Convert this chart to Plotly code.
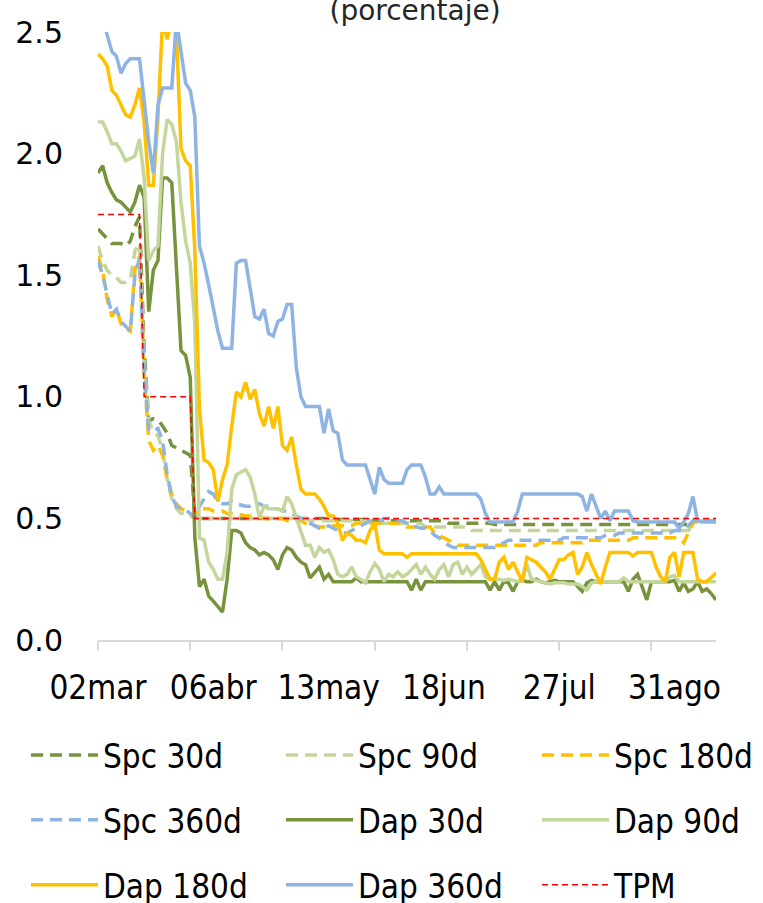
import pandas as pd
import plotly.graph_objects as go

# Business days (Chile) from 2 March to 11 September 2020, without public holidays
feriados = ["2020-04-10", "2020-05-01", "2020-05-21", "2020-06-29", "2020-07-16"]
fechas = pd.bdate_range("2020-03-02", "2020-09-11", freq="C", holidays=feriados)
meses = {3: "mar", 4: "abr", 5: "may", 6: "jun", 7: "jul", 8: "ago", 9: "sep"}
etiquetas = [f"{d.day:02d}{meses[d.month]}" for d in fechas]

# Interest rates (percent), one value per business day
spc_30d = [
    1.69, 1.67, 1.65, 1.63, 1.63, 1.63, 1.62, 1.64, 1.70, 1.74,
    1.20, 0.90, 0.91, 0.905, 0.88, 0.85, 0.80, 0.79, 0.78, 0.77,
    0.76, 0.52, 0.50, 0.50, 0.50, 0.50, 0.50, 0.50, 0.50, 0.50,
    0.50, 0.50, 0.50, 0.50, 0.50, 0.50, 0.50, 0.50, 0.50, 0.50,
    0.50, 0.50, 0.50, 0.50, 0.50, 0.50, 0.50, 0.50, 0.50, 0.50,
    0.495, 0.495, 0.495, 0.495, 0.495, 0.495, 0.495, 0.495, 0.495, 0.495,
    0.49, 0.49, 0.49, 0.49, 0.49, 0.49, 0.49, 0.49, 0.49, 0.49,
    0.49, 0.49, 0.49, 0.49, 0.49, 0.49, 0.48, 0.48, 0.48, 0.48,
    0.48, 0.48, 0.48, 0.48, 0.48, 0.48, 0.475, 0.475, 0.475, 0.475,
    0.475, 0.475, 0.475, 0.475, 0.475, 0.475, 0.475, 0.475, 0.475, 0.475,
    0.475, 0.475, 0.475, 0.475, 0.475, 0.475, 0.475, 0.475, 0.475, 0.475,
    0.475, 0.475, 0.475, 0.475, 0.475, 0.475, 0.475, 0.475, 0.475, 0.475,
    0.475, 0.475, 0.475, 0.475, 0.475, 0.475, 0.475, 0.475, 0.475, 0.49,
    0.49, 0.49, 0.49, 0.49, 0.49,
]
spc_90d = [
    1.62, 1.56, 1.52, 1.50, 1.49, 1.47, 1.47, 1.48, 1.60, 1.63,
    1.15, 0.90, 0.86, 0.84, 0.78, 0.66, 0.58, 0.54, 0.52, 0.52,
    0.51, 0.50, 0.50, 0.50, 0.50, 0.50, 0.50, 0.50, 0.50, 0.50,
    0.50, 0.50, 0.50, 0.50, 0.50, 0.50, 0.50, 0.50, 0.50, 0.50,
    0.50, 0.50, 0.50, 0.50, 0.50, 0.50, 0.49, 0.49, 0.49, 0.49,
    0.49, 0.49, 0.49, 0.49, 0.49, 0.49, 0.49, 0.49, 0.49, 0.49,
    0.49, 0.48, 0.48, 0.48, 0.48, 0.48, 0.48, 0.48, 0.48, 0.48,
    0.48, 0.465, 0.465, 0.465, 0.465, 0.465, 0.465, 0.465, 0.465, 0.465,
    0.465, 0.45, 0.45, 0.45, 0.45, 0.45, 0.45, 0.45, 0.45, 0.45,
    0.45, 0.45, 0.45, 0.45, 0.45, 0.45, 0.45, 0.45, 0.45, 0.45,
    0.45, 0.45, 0.45, 0.45, 0.45, 0.45, 0.45, 0.45, 0.45, 0.45,
    0.45, 0.45, 0.45, 0.45, 0.45, 0.45, 0.45, 0.45, 0.45, 0.45,
    0.45, 0.45, 0.45, 0.45, 0.45, 0.45, 0.45, 0.45, 0.45, 0.47,
    0.49, 0.49, 0.49, 0.49, 0.49,
]
spc_180d = [
    1.58, 1.52, 1.40, 1.33, 1.36, 1.30, 1.28, 1.27, 1.52, 1.58,
    1.10, 0.82, 0.78, 0.80, 0.76, 0.66, 0.60, 0.56, 0.54, 0.53,
    0.52, 0.505, 0.54, 0.54, 0.54, 0.53, 0.53, 0.53, 0.52, 0.52,
    0.52, 0.515, 0.51, 0.51, 0.51, 0.505, 0.50, 0.50, 0.50, 0.50,
    0.50, 0.49, 0.49, 0.49, 0.49, 0.48, 0.47, 0.47, 0.465, 0.465,
    0.47, 0.47, 0.47, 0.47, 0.47, 0.47, 0.48, 0.48, 0.48, 0.48,
    0.48, 0.48, 0.48, 0.48, 0.48, 0.48, 0.48, 0.465, 0.465, 0.465,
    0.465, 0.465, 0.465, 0.44, 0.43, 0.42, 0.41, 0.40, 0.39, 0.39,
    0.39, 0.39, 0.39, 0.39, 0.39, 0.39, 0.39, 0.39, 0.39, 0.39,
    0.39, 0.39, 0.39, 0.39, 0.39, 0.39, 0.40, 0.40, 0.40, 0.40,
    0.40, 0.40, 0.40, 0.40, 0.40, 0.40, 0.41, 0.41, 0.41, 0.41,
    0.41, 0.41, 0.41, 0.41, 0.41, 0.41, 0.42, 0.42, 0.42, 0.42,
    0.42, 0.42, 0.42, 0.42, 0.42, 0.42, 0.42, 0.40, 0.44, 0.48,
    0.49, 0.49, 0.49, 0.49, 0.49,
]
spc_360d = [
    1.56, 1.50, 1.42, 1.34, 1.36, 1.31, 1.29, 1.27, 1.50, 1.57,
    1.10, 0.86, 0.86, 0.87, 0.82, 0.68, 0.59, 0.55, 0.54, 0.535,
    0.52, 0.505, 0.55, 0.58, 0.61, 0.60, 0.57, 0.56, 0.56, 0.57,
    0.56, 0.555, 0.55, 0.55, 0.56, 0.56, 0.55, 0.55, 0.54, 0.54,
    0.53, 0.53, 0.52, 0.51, 0.50, 0.49, 0.48, 0.47, 0.46, 0.46,
    0.47, 0.46, 0.45, 0.44, 0.44, 0.45, 0.46, 0.47, 0.48, 0.49,
    0.49, 0.49, 0.50, 0.50, 0.50, 0.49, 0.49, 0.48, 0.47, 0.465,
    0.46, 0.46, 0.45, 0.43, 0.42, 0.40, 0.39, 0.38, 0.38, 0.38,
    0.38, 0.38, 0.38, 0.38, 0.38, 0.38, 0.38, 0.39, 0.40, 0.41,
    0.41, 0.41, 0.41, 0.41, 0.41, 0.41, 0.41, 0.41, 0.41, 0.41,
    0.41, 0.42, 0.42, 0.42, 0.42, 0.42, 0.42, 0.42, 0.42, 0.42,
    0.43, 0.43, 0.43, 0.44, 0.44, 0.44, 0.44, 0.44, 0.44, 0.44,
    0.44, 0.44, 0.44, 0.44, 0.44, 0.45, 0.45, 0.45, 0.47, 0.49,
    0.49, 0.49, 0.49, 0.49, 0.49,
]
dap_30d = [
    1.92, 1.95, 1.88, 1.84, 1.81, 1.80, 1.78, 1.76, 1.80, 1.87,
    1.82, 1.35, 1.52, 1.56, 1.90, 1.90, 1.88, 1.55, 1.19, 1.17,
    1.08, 0.42, 0.22, 0.25, 0.18, 0.16, 0.14, 0.115, 0.25, 0.45,
    0.45, 0.44, 0.40, 0.38, 0.37, 0.35, 0.36, 0.35, 0.33, 0.29,
    0.35, 0.38, 0.37, 0.34, 0.32, 0.31, 0.255, 0.275, 0.30, 0.25,
    0.27, 0.24, 0.24, 0.24, 0.24, 0.24, 0.255, 0.24, 0.24, 0.24,
    0.24, 0.24, 0.24, 0.24, 0.24, 0.24, 0.24, 0.24, 0.205, 0.25,
    0.205, 0.24, 0.24, 0.24, 0.24, 0.24, 0.24, 0.24, 0.24, 0.24,
    0.24, 0.24, 0.24, 0.24, 0.24, 0.205, 0.24, 0.205, 0.24, 0.235,
    0.20, 0.24, 0.245, 0.24, 0.24, 0.25, 0.24, 0.235, 0.24, 0.245,
    0.24, 0.24, 0.24, 0.24, 0.22, 0.20, 0.235, 0.245, 0.24, 0.24,
    0.24, 0.24, 0.24, 0.24, 0.24, 0.20, 0.25, 0.27, 0.22, 0.165,
    0.24, 0.24, 0.24, 0.24, 0.24, 0.245, 0.20, 0.235, 0.20, 0.21,
    0.24, 0.20, 0.21, 0.19, 0.165,
]
dap_90d = [
    2.13, 2.13, 2.09, 2.04, 2.04, 2.01, 1.97, 1.98, 1.99, 2.06,
    1.90, 1.56, 1.60, 1.62, 2.00, 2.14, 2.12, 2.05, 1.80, 1.64,
    1.55, 1.30, 0.42, 0.41, 0.32, 0.29, 0.25, 0.25, 0.36, 0.62,
    0.68, 0.69, 0.70, 0.67, 0.60, 0.50, 0.55, 0.54, 0.54, 0.54,
    0.53, 0.59, 0.56, 0.50, 0.45, 0.39, 0.39, 0.34, 0.38, 0.36,
    0.37, 0.33, 0.27, 0.26, 0.27, 0.30, 0.26, 0.25, 0.235, 0.28,
    0.315, 0.29, 0.24, 0.27, 0.26, 0.28, 0.26, 0.27, 0.29, 0.31,
    0.27, 0.30, 0.27, 0.25, 0.29, 0.31, 0.26, 0.31, 0.32, 0.27,
    0.30, 0.27, 0.29, 0.31, 0.26, 0.25, 0.25, 0.25, 0.245, 0.25,
    0.245, 0.24, 0.25, 0.31, 0.25, 0.245, 0.24, 0.235, 0.23, 0.235,
    0.235, 0.235, 0.23, 0.23, 0.23, 0.22, 0.205, 0.235, 0.24, 0.24,
    0.24, 0.24, 0.24, 0.24, 0.255, 0.24, 0.24, 0.24, 0.24, 0.24,
    0.24, 0.24, 0.24, 0.24, 0.26, 0.265, 0.24, 0.24, 0.24, 0.24,
    0.24, 0.24, 0.24, 0.24, 0.24,
]
dap_180d = [
    2.41, 2.39, 2.36, 2.26, 2.24, 2.20, 2.16, 2.15, 2.20, 2.27,
    2.13, 1.87, 1.87, 2.15, 2.55, 2.47, 2.55, 2.50, 2.02, 1.97,
    1.95, 1.60, 0.95, 0.74, 0.73, 0.70, 0.57, 0.66, 0.72, 0.88,
    1.02, 1.00, 1.06, 0.99, 1.03, 0.93, 0.88, 0.96, 0.87, 0.96,
    0.80, 0.78, 0.835, 0.72, 0.62, 0.60, 0.60, 0.60, 0.58, 0.55,
    0.51, 0.51, 0.48, 0.41, 0.44, 0.43, 0.41, 0.41, 0.40, 0.45,
    0.48, 0.37, 0.355, 0.355, 0.355, 0.355, 0.355, 0.34, 0.355, 0.355,
    0.355, 0.355, 0.355, 0.355, 0.355, 0.355, 0.355, 0.355, 0.355, 0.355,
    0.355, 0.355, 0.355, 0.33, 0.29, 0.25, 0.25, 0.32, 0.34, 0.29,
    0.32, 0.28, 0.24, 0.34, 0.33, 0.32, 0.30, 0.28, 0.25, 0.29,
    0.33, 0.33, 0.35, 0.36, 0.27, 0.30, 0.36, 0.31, 0.27, 0.23,
    0.30, 0.36, 0.36, 0.36, 0.36, 0.36, 0.345, 0.36, 0.36, 0.36,
    0.36, 0.30, 0.26, 0.24, 0.34, 0.36, 0.26, 0.36, 0.36, 0.36,
    0.25, 0.24, 0.24, 0.26, 0.275,
]
dap_360d = [
    2.62, 2.55, 2.49, 2.42, 2.40, 2.33, 2.37, 2.39, 2.39, 2.39,
    2.22, 2.05, 1.92, 2.20, 2.27, 2.27, 2.27, 2.55, 2.42, 2.29,
    2.26, 2.15, 1.62, 1.55, 1.46, 1.37, 1.27, 1.20, 1.20, 1.20,
    1.55, 1.56, 1.56, 1.44, 1.33, 1.32, 1.36, 1.26, 1.25, 1.31,
    1.32, 1.38, 1.38, 1.12, 1.00, 0.96, 0.96, 0.96, 0.96, 0.85,
    0.95, 0.86, 0.85, 0.74, 0.72, 0.72, 0.72, 0.72, 0.72, 0.66,
    0.60, 0.71, 0.66, 0.645, 0.645, 0.645, 0.645, 0.70, 0.72, 0.72,
    0.72, 0.67, 0.60, 0.60, 0.63, 0.60, 0.60, 0.60, 0.60, 0.60,
    0.60, 0.60, 0.60, 0.58, 0.52, 0.485, 0.485, 0.485, 0.485, 0.485,
    0.485, 0.53, 0.60, 0.60, 0.60, 0.60, 0.60, 0.60, 0.60, 0.60,
    0.60, 0.60, 0.60, 0.60, 0.60, 0.59, 0.53, 0.60, 0.55, 0.50,
    0.53, 0.49, 0.53, 0.53, 0.53, 0.53, 0.49, 0.485, 0.485, 0.485,
    0.485, 0.485, 0.485, 0.485, 0.485, 0.485, 0.46, 0.485, 0.52, 0.59,
    0.49, 0.485, 0.485, 0.485, 0.485,
]
tpm = [
    1.75, 1.75, 1.75, 1.75, 1.75, 1.75, 1.75, 1.75, 1.75, 1.75,
    1.00, 1.00, 1.00, 1.00, 1.00, 1.00, 1.00, 1.00, 1.00, 1.00,
    1.00, 0.50, 0.50, 0.50, 0.50, 0.50, 0.50, 0.50, 0.50, 0.50,
    0.50, 0.50, 0.50, 0.50, 0.50, 0.50, 0.50, 0.50, 0.50, 0.50,
    0.50, 0.50, 0.50, 0.50, 0.50, 0.50, 0.50, 0.50, 0.50, 0.50,
    0.50, 0.50, 0.50, 0.50, 0.50, 0.50, 0.50, 0.50, 0.50, 0.50,
    0.50, 0.50, 0.50, 0.50, 0.50, 0.50, 0.50, 0.50, 0.50, 0.50,
    0.50, 0.50, 0.50, 0.50, 0.50, 0.50, 0.50, 0.50, 0.50, 0.50,
    0.50, 0.50, 0.50, 0.50, 0.50, 0.50, 0.50, 0.50, 0.50, 0.50,
    0.50, 0.50, 0.50, 0.50, 0.50, 0.50, 0.50, 0.50, 0.50, 0.50,
    0.50, 0.50, 0.50, 0.50, 0.50, 0.50, 0.50, 0.50, 0.50, 0.50,
    0.50, 0.50, 0.50, 0.50, 0.50, 0.50, 0.50, 0.50, 0.50, 0.50,
    0.50, 0.50, 0.50, 0.50, 0.50, 0.50, 0.50, 0.50, 0.50, 0.50,
    0.50, 0.50, 0.50, 0.50, 0.50,
]

y_ticks = [0.0, 0.5, 1.0, 1.5, 2.0, 2.5]

n = len(fechas)
x = list(range(n))
label_pos = list(range(0, n, 25))   # dated labels every 25 business days
mark_pos = list(range(0, n, 20))    # tick marks every 20 business days

COND = "DejaVu Sans Condensed, Liberation Sans Narrow, DejaVu Sans"
SANS = "DejaVu Sans"

verde = "#77933C"
verde_claro = "#C3D69B"
dorado = "#FFC000"
azul = "#8DB4E2"
rojo = "#FF0000"
DASH = "12px,7px"

# name, values, colour, dash, width, legend column, x-axis
series = [
    ("Spc 30d", spc_30d, verde, DASH, 3.5, "legend", "x"),
    ("Spc 90d", spc_90d, verde_claro, DASH, 3.5, "legend2", "x"),
    ("Spc 180d", spc_180d, dorado, DASH, 3.5, "legend3", "x"),
    ("Spc 360d", spc_360d, azul, DASH, 3.5, "legend", "x"),
    ("Dap 30d", dap_30d, verde, "solid", 3.5, "legend2", "x"),
    ("Dap 90d", dap_90d, verde_claro, "solid", 3.5, "legend3", "x"),
    ("Dap 180d", dap_180d, dorado, "solid", 3.5, "legend", "x"),
    ("Dap 360d", dap_360d, azul, "solid", 3.5, "legend2", "x"),
    ("TPM", tpm, rojo, "6px,4px", 1.5, "legend3", "x2"),
]

fig = go.Figure()
for name, vals, color, dash, width, leg, xa in series:
    fig.add_trace(go.Scatter(
        x=x, y=vals, name=name, mode="lines",
        line=dict(color=color, width=width, dash=dash),
        legend=leg, legendgroup=name, xaxis=xa, hoverinfo="skip",
    ))

legend_base = dict(
    orientation="v", xref="container", yref="container",
    xanchor="left", yanchor="middle", y=1 - 820 / 903,
    font=dict(family=COND, size=33, color="black"),
    itemwidth=67, tracegroupgap=19, traceorder="grouped",
    bgcolor="rgba(0,0,0,0)", borderwidth=0,
)

fig.update_layout(
    width=763, height=903,
    margin=dict(l=98, r=47, t=32, b=263, autoexpand=False),
    paper_bgcolor="white", plot_bgcolor="white",
    title=dict(text="(porcentaje)", xref="container", yref="container",
               x=0.544, y=0.989, xanchor="center", yanchor="middle",
               font=dict(family=SANS, size=28, color="#262626")),
    xaxis=dict(range=[0, n - 1], showgrid=False, zeroline=False,
               showline=True, linecolor="#D9D9D9", linewidth=1.5,
               ticks="", tickvals=label_pos,
               ticktext=[etiquetas[i] for i in label_pos],
               tickfont=dict(family=COND, size=33, color="black"),
               ticklabelstandoff=18),
    xaxis2=dict(range=[0, n - 1], overlaying="x", anchor="y", side="bottom",
                showgrid=False, zeroline=False, showline=False,
                tickvals=mark_pos, ticks="outside", ticklen=10,
                tickwidth=1.5, tickcolor="#D9D9D9", showticklabels=False),
    yaxis=dict(range=[0, 2.5], showgrid=False, zeroline=False,
               showline=False, ticks="", tickvals=y_ticks,
               tickformat=".1f",
               tickfont=dict(family=SANS, size=30, color="black"),
               ticklabelstandoff=34),
    legend=dict(legend_base, x=26 / 763),
    legend2=dict(legend_base, x=281 / 763),
    legend3=dict(legend_base, x=537 / 763),
)

fig.write_html("out.html")
